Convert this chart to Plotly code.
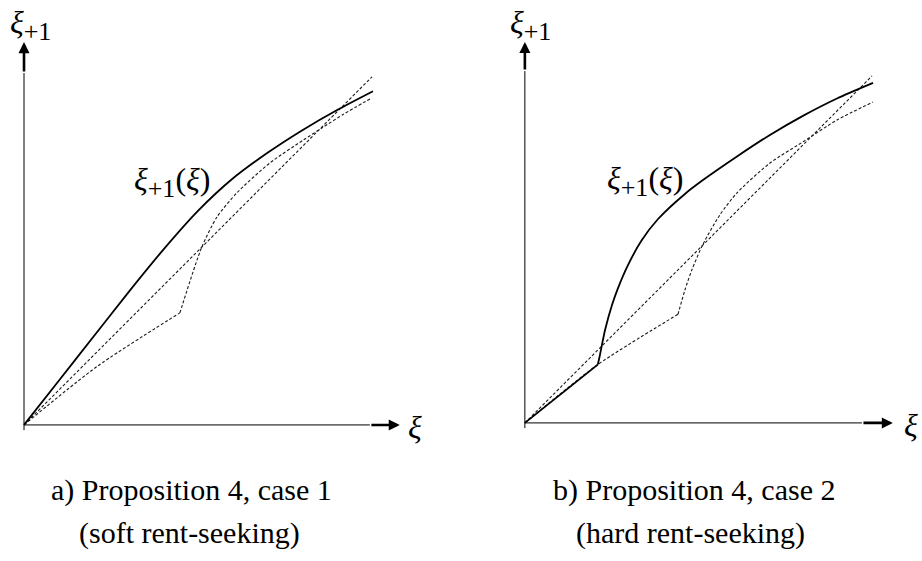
import plotly.graph_objects as go

# ---- panel a) soft rent-seeking -------------------------------------------
a_map_x = [0.0, 0.1, 0.2, 0.3, 0.4, 0.5, 0.6, 0.7, 0.8, 0.9, 1.003]
a_map_y = [0.0, 0.127, 0.254, 0.381, 0.503, 0.615, 0.708, 0.782, 0.847, 0.905, 0.959]

a_low_x = [0.0, 0.21, 0.448]
a_low_y = [0.0, 0.168, 0.322]

a_high_x = [0.448, 0.511, 0.555, 0.612, 0.707, 0.802, 0.859, 0.917, 1.0]
a_high_y = [0.322, 0.511, 0.598, 0.667, 0.753, 0.818, 0.855, 0.892, 0.940]

# ---- panel b) hard rent-seeking -------------------------------------------
b_map_lin_x = [0.0, 0.21]
b_map_lin_y = [0.0, 0.168]
b_map_x = [0.21, 0.215, 0.222, 0.231, 0.251, 0.268, 0.297, 0.337, 0.383, 0.461,
           0.513, 0.611, 0.706, 0.801, 0.899, 1.003]
b_map_y = [0.168, 0.19, 0.225, 0.268, 0.340, 0.388, 0.455, 0.527, 0.587, 0.660,
           0.700, 0.768, 0.830, 0.885, 0.935, 0.980]

b_low_x = [0.0, 0.21, 0.441]
b_low_y = [0.0, 0.168, 0.313]

b_high_x = [0.441, 0.461, 0.481, 0.513, 0.562, 0.611, 0.706, 0.801, 0.899, 1.003]
b_high_y = [0.313, 0.383, 0.441, 0.515, 0.600, 0.663, 0.749, 0.810, 0.873, 0.925]

diag = [0.0, 1.0]

captions = [("a) Proposition 4, case 1", "(soft rent-seeking)"),
            ("b) Proposition 4, case 2", "(hard rent-seeking)")]

SERIF = "Liberation Serif, Times New Roman, serif"
INK = "black"
DASH = "3px,2px"

fig = go.Figure()


def dashed(x, y, xa, ya, shape="spline"):
    fig.add_trace(go.Scatter(x=x, y=y, xaxis=xa, yaxis=ya, mode="lines",
                             line=dict(color="#1a1a1a", width=1.1, dash=DASH, shape=shape,
                                       smoothing=0.7),
                             hoverinfo="skip", showlegend=False))


def solid(x, y, xa, ya, shape="spline"):
    fig.add_trace(go.Scatter(x=x, y=y, xaxis=xa, yaxis=ya, mode="lines",
                             line=dict(color=INK, width=1.8, shape=shape, smoothing=0.7),
                             hoverinfo="skip", showlegend=False))


# panel a
dashed(diag, diag, "x", "y", "linear")
dashed(a_low_x, a_low_y, "x", "y")
dashed(a_high_x, a_high_y, "x", "y")
solid(a_map_x, a_map_y, "x", "y")

# panel b
dashed(diag, diag, "x2", "y2", "linear")
dashed(b_low_x, b_low_y, "x2", "y2")
dashed(b_high_x, b_high_y, "x2", "y2")
solid(b_map_lin_x, b_map_lin_y, "x2", "y2", "linear")
solid(b_map_x, b_map_y, "x2", "y2")

# coordinate axes with arrows
axes_ends = {
    ("x", "y"): dict(xt=1.08, xs=0.994, yt=1.10, ys=1.011),
    ("x2", "y2"): dict(xt=1.06, xs=0.971, yt=1.098, ys=1.014),
}
annotations = []
for (xa, ya), e in axes_ends.items():
    fig.add_trace(go.Scatter(x=[0, e["xs"]], y=[0, 0], xaxis=xa, yaxis=ya, mode="lines",
                             line=dict(color=INK, width=1), hoverinfo="skip",
                             showlegend=False))
    fig.add_trace(go.Scatter(x=[0, 0], y=[-0.015, e["ys"]], xaxis=xa, yaxis=ya,
                             mode="lines", line=dict(color=INK, width=1),
                             hoverinfo="skip", showlegend=False))
    annotations.append(dict(x=e["xt"], y=0, ax=e["xs"], ay=0, xref=xa, yref=ya,
                            axref=xa, ayref=ya, showarrow=True, arrowhead=2,
                            arrowsize=0.85, arrowwidth=2.6, arrowcolor=INK, text=""))
    annotations.append(dict(x=0, y=e["yt"], ax=0, ay=e["ys"], xref=xa, yref=ya,
                            axref=xa, ayref=ya, showarrow=True, arrowhead=2,
                            arrowsize=0.85, arrowwidth=2.6, arrowcolor=INK, text=""))

xi = "<i>ξ</i>"
sub1 = "<sub><span style='font-size:26px'>+1</span></sub>"
lab_font = dict(family=SERIF, size=32, color=INK)
# axis names and curve labels
for xa, ya, ax_lab, yx, yy, cx, cy in [("x", "y", 1.124, 0.018, 1.15, 0.426, 0.698),
                                       ("x2", "y2", 1.112, 0.016, 1.147, 0.347, 0.697)]:
    annotations.append(dict(x=ax_lab, y=-0.006, xref=xa, yref=ya, text=xi,
                            showarrow=False, font=lab_font,
                            xanchor="center", yanchor="middle"))
    annotations.append(dict(x=yx, y=yy, xref=xa, yref=ya, text=xi + sub1,
                            showarrow=False, font=lab_font,
                            xanchor="center", yanchor="middle"))
    annotations.append(dict(x=cx, y=cy, xref=xa, yref=ya,
                            text=xi + sub1 + "(" + xi + ")", showarrow=False,
                            font=lab_font, xanchor="center", yanchor="middle"))

# captions below each panel
cap_font = dict(family=SERIF, size=30, color=INK)
for (l1, l2), cx1, cx2 in zip(captions, [0.208, 0.753], [0.206, 0.749]):
    annotations.append(dict(x=cx1, y=0.1266, xref="paper", yref="paper", text=l1,
                            showarrow=False, font=cap_font,
                            xanchor="center", yanchor="middle"))
    annotations.append(dict(x=cx2, y=0.05, xref="paper", yref="paper", text=l2,
                            showarrow=False, font=cap_font,
                            xanchor="center", yanchor="middle"))

hidden = dict(visible=False, showgrid=False, zeroline=False, fixedrange=True)
fig.update_layout(
    width=922, height=561,
    margin=dict(l=0, r=0, t=0, b=0),
    paper_bgcolor="white", plot_bgcolor="white",
    xaxis=dict(domain=[0, 0.5], range=[-0.069, 1.256], **hidden),
    yaxis=dict(domain=[0, 1], range=[-0.391, 1.221], **hidden),
    xaxis2=dict(domain=[0.5, 1], range=[-0.184, 1.144], anchor="y2", **hidden),
    yaxis2=dict(domain=[0, 1], range=[-0.398, 1.219], anchor="x2", **hidden),
    annotations=annotations,
    showlegend=False,
)

fig.write_html("out.html", config={"displayModeBar": False})
